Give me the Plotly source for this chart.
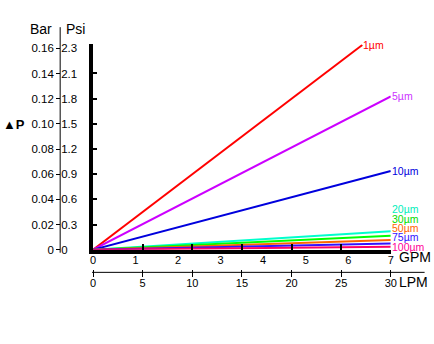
import plotly.graph_objects as go

# ---- data ----
filters = ["1µm", "5µm", "10µm", "20µm", "30µm", "50µm", "75µm", "100µm"]
end_gpm = [6.33, 7, 7, 7, 7, 7, 7, 7]
end_bar = [0.1626, 0.1218, 0.0626, 0.0146, 0.0110, 0.0078, 0.0050, 0.0024]
line_colors = ["#ff0000", "#cc00ff", "#0000dd", "#00ffcc", "#00ff00", "#ff6600", "#3311ff", "#ff0066"]
label_colors = ["#ff0000", "#cc33ff", "#0000dd", "#00eebb", "#00dd00", "#ff6600", "#3311ff", "#ff0099"]

gpm_ticks = [0, 1, 2, 3, 4, 5, 6, 7]
lpm_ticks = [0, 5, 10, 15, 20, 25, 30]
bar_ticks = [0, 0.02, 0.04, 0.06, 0.08, 0.10, 0.12, 0.14, 0.16]
bar_text = ["0", "0.02", "0.04", "0.06", "0.08", "0.10", "0.12", "0.14", "0.16"]
psi_text = ["0", "0.3", "0.6", "0.9", "1.2", "1.5", "1.8", "2.1", "2.3"]

W, H = 434, 344
FONT = "Liberation Sans, Arial, sans-serif"

# measured mapping of paper fractions to rendered pixels
PX0, PW = 1.6, 426.8
PY0, PH = 2.0, 333.7


def px(p):
    return (p - PX0) / PW


def py(p):
    return 1 - (p - PY0) / PH


fig = go.Figure()
for name, xe, ye, c in zip(filters, end_gpm, end_bar, line_colors):
    fig.add_trace(go.Scatter(x=[0, xe], y=[0, ye], mode="lines", name=name,
                             line=dict(color=c, width=2), showlegend=False,
                             hoverinfo="skip"))
# empty traces to activate extra axes
fig.add_trace(go.Scatter(x=[], y=[], xaxis="x2", yaxis="y", showlegend=False))
fig.add_trace(go.Scatter(x=[], y=[], xaxis="x3", yaxis="y", showlegend=False))
fig.add_trace(go.Scatter(x=[], y=[], xaxis="x", yaxis="y2", showlegend=False))
fig.add_trace(go.Scatter(x=[], y=[], xaxis="x", yaxis="y3", showlegend=False))

xdom = [px(92), px(391)]
ydom = [py(248), py(44)]
yrange = [0, 0.1632]

fig.update_layout(
    width=W, height=H, autosize=False,
    margin=dict(l=0, r=0, t=0, b=0),
    paper_bgcolor="white", plot_bgcolor="white",
    font=dict(family=FONT, color="black", size=11),
    xaxis=dict(domain=xdom, range=[0, 7], anchor="y", showline=True, linewidth=4,
               linecolor="black", tickvals=gpm_ticks, ticks="", showgrid=False,
               zeroline=False, tickfont=dict(size=11), ticklabelstandoff=-3),
    xaxis3=dict(domain=xdom, range=[0, 30], anchor="y", overlaying="x", side="bottom",
                tickvals=lpm_ticks[1:], ticks="inside", ticklen=6, tickwidth=2,
                tickcolor="black", showticklabels=False, showline=False,
                showgrid=False, zeroline=False),
    xaxis2=dict(domain=xdom, range=[0, 30], anchor="free", position=py(267),
                overlaying="x", side="bottom",
                tickvals=lpm_ticks, ticks="outside", ticklen=7, tickwidth=1,
                tickcolor="black", showline=False, showgrid=False, zeroline=False,
                tickfont=dict(size=11), ticklabelstandoff=-3),
    yaxis=dict(domain=ydom, range=yrange, anchor="x", showline=True, linewidth=4,
               linecolor="black", tickvals=bar_ticks[1:-1], ticks="inside",
               ticklen=4, tickwidth=2, tickcolor="black", showticklabels=False,
               showgrid=False, zeroline=False),
    yaxis2=dict(range=yrange, overlaying="y", anchor="free", position=px(59),
                side="left", tickvals=bar_ticks, ticktext=bar_text, ticks="outside",
                ticklen=4, tickwidth=1, tickcolor="black", showline=False,
                showgrid=False, zeroline=False, tickfont=dict(size=11.5)),
    yaxis3=dict(range=yrange, overlaying="y", anchor="free", position=px(59),
                side="right", tickvals=bar_ticks, ticktext=psi_text, ticks="",
                showline=False, showgrid=False, zeroline=False,
                tickfont=dict(size=11.5)),
)

shapes = [
    dict(type="line", xref="paper", yref="paper", x0=px(59), x1=px(59),
         y0=py(27), y1=py(251), line=dict(color="black", width=1)),
    dict(type="line", xref="paper", yref="paper", x0=px(91), x1=px(425),
         y0=py(270.5), y1=py(270.5), line=dict(color="black", width=1)),
]
fig.update_layout(shapes=shapes)

ann = []
n = len(filters)
for i, (name, xe, ye, c) in enumerate(zip(filters, end_gpm, end_bar, label_colors)):
    if i < 3:
        ann.append(dict(x=xe, y=ye, xref="x", yref="y", text=name, showarrow=False,
                        xanchor="left", yanchor="middle", xshift=-1,
                        font=dict(color=c, size=10.5, family=FONT)))
    else:
        ann.append(dict(x=xe, y=end_bar[-1], xref="x", yref="y", text=name,
                        showarrow=False, xanchor="left", yanchor="middle",
                        xshift=-1, yshift=(n - 1 - i) * 9.3,
                        font=dict(color=c, size=10.5, family=FONT)))

ann += [
    dict(x=px(40), y=py(29), xref="paper", yref="paper", text="Bar", showarrow=False,
         xanchor="center", yanchor="middle", font=dict(size=14)),
    dict(x=px(74), y=py(29), xref="paper", yref="paper", text="Psi", showarrow=False,
         xanchor="center", yanchor="middle", font=dict(size=14)),
    dict(x=px(13), y=py(124), xref="paper", yref="paper", text="<b>▲P</b>",
         showarrow=False, xanchor="center", yanchor="middle", font=dict(size=13)),
    dict(x=px(397), y=py(255), xref="paper", yref="paper", text="GPM",
         showarrow=False, xanchor="left", yanchor="middle", font=dict(size=14)),
    dict(x=px(397), y=py(280.5), xref="paper", yref="paper", text="LPM",
         showarrow=False, xanchor="left", yanchor="middle", font=dict(size=14)),
]
fig.update_layout(annotations=ann)

fig.write_html("out.html")
